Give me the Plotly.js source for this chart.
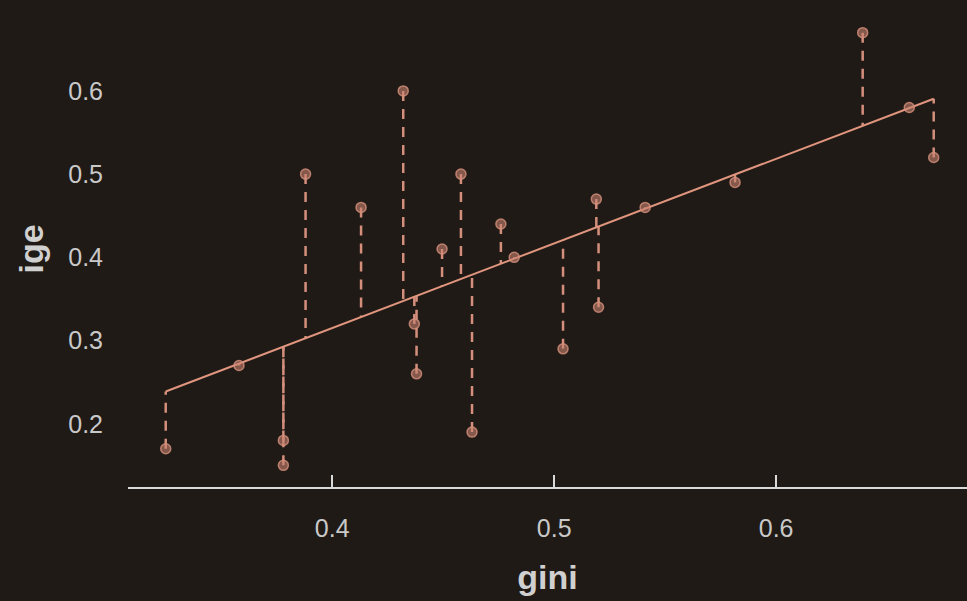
<!DOCTYPE html>
<html>
<head>
<meta charset="utf-8">
<script src="https://cdn.plot.ly/plotly-3.0.1.min.js"></script>
<style>html,body{margin:0;padding:0;background:#201a16;}</style>
</head>
<body>
<div id="chart" style="width:967px;height:601px;"></div>
<script>
const gini = [0.325, 0.358, 0.378, 0.378, 0.388, 0.413, 0.432, 0.437, 0.438, 0.4495, 0.458, 0.463, 0.476, 0.482, 0.504, 0.519, 0.520, 0.541, 0.5815, 0.639, 0.660, 0.671];
const ige  = [0.17, 0.27, 0.18, 0.15, 0.50, 0.46, 0.60, 0.32, 0.26, 0.41, 0.50, 0.19, 0.44, 0.40, 0.29, 0.47, 0.34, 0.46, 0.49, 0.67, 0.58, 0.52];
const xTicks = [0.4, 0.5, 0.6];
const yTicks = [0.2, 0.3, 0.4, 0.5, 0.6];

// OLS fit
const n = gini.length;
const mx = gini.reduce((a,b)=>a+b,0)/n;
const my = ige.reduce((a,b)=>a+b,0)/n;
let sxy=0, sxx=0;
for (let i=0;i<n;i++){ sxy += (gini[i]-mx)*(ige[i]-my); sxx += (gini[i]-mx)**2; }
const slope = sxy/sxx, icpt = my - slope*mx;
const fitted = gini.map(v => icpt + slope*v);

const rx=[], ry=[];
for (let i=0;i<n;i++){ rx.push(gini[i], gini[i], null); ry.push(ige[i], fitted[i], null); }
const gmin = Math.min(...gini), gmax = Math.max(...gini);

const traces = [
  {x: rx, y: ry, mode:'lines', line:{color:'#d48f7c', width:2.5, dash:'10px,8px'}, hoverinfo:'skip', showlegend:false},
  {x: [gmin, gmax], y: [icpt+slope*gmin, icpt+slope*gmax], mode:'lines', line:{color:'#e0957e', width:2}, showlegend:false},
  {x: gini, y: ige, mode:'markers', marker:{size:10, color:'rgba(200,130,112,0.6)', line:{color:'rgba(215,145,125,0.8)', width:1.5}}, showlegend:false}
];

const layout = {
  width: 967, height: 601,
  paper_bgcolor:'#201a16', plot_bgcolor:'#201a16',
  margin:{l:128, r:0, t:11, b:114},
  font:{family:'Liberation Sans, Arial, sans-serif', color:'#c9c9c9'},
  xaxis:{
    range:[0.308, 0.686], tickvals:xTicks, ticktext:xTicks.map(v=>v.toFixed(1)),
    showgrid:false, zeroline:false, showline:true, linecolor:'#d9d9d9', linewidth:2,
    ticks:'inside', ticklen:12, tickwidth:2, tickcolor:'#d9d9d9',
    tickfont:{size:25, color:'#c9c9c9'}, ticklabelstandoff:18,
    title:{text:'<b>gini</b>', font:{size:34, color:'#d0d0d0'}, standoff:24}
  },
  yaxis:{
    range:[0.124, 0.696], tickvals:yTicks, ticktext:yTicks.map(v=>v.toFixed(1)),
    showgrid:false, zeroline:false, showline:false, ticks:'',
    tickfont:{size:25, color:'#c9c9c9'}, ticklabelstandoff:24,
    title:{text:'<b>ige</b>', font:{size:34, color:'#d0d0d0'}, standoff:14}
  }
};
Plotly.newPlot('chart', traces, layout, {displayModeBar:false, staticPlot:true});
</script>
</body>
</html>
